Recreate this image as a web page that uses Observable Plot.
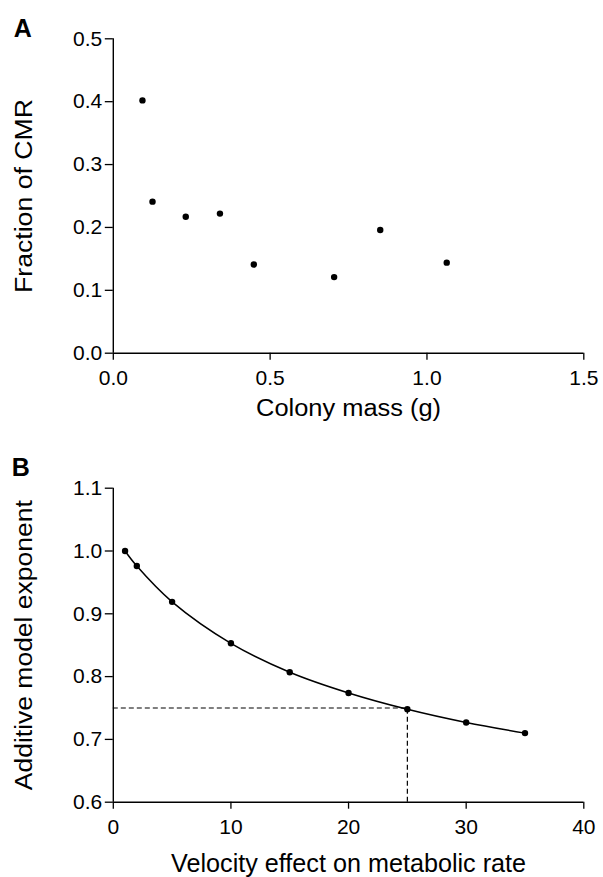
<!DOCTYPE html>
<html>
<head>
<meta charset="utf-8">
<script src="https://cdn.jsdelivr.net/npm/d3@7"></script>
<script src="https://cdn.jsdelivr.net/npm/@observablehq/plot@0.6"></script>
<style>
  html, body { margin: 0; padding: 0; background: #fff; overflow: hidden; }
  svg { display: block; }
</style>
</head>
<body>
<div id="chart"></div>
<script>
// Panel A data
const colonyMass = [0.093, 0.125, 0.231, 0.340, 0.448, 0.704, 0.851, 1.063];
const fractionCMR = [0.402, 0.241, 0.217, 0.222, 0.141, 0.121, 0.196, 0.144];
const ticksAX = [0, 0.5, 1.0, 1.5];
const ticksAY = [0, 0.1, 0.2, 0.3, 0.4, 0.5];
const labelAX = "Colony mass (g)";
const labelAY = "Fraction of CMR";

// Panel B data
const velocityEffect = [1, 2, 5, 10, 15, 20, 25, 30, 35];
const modelExponent = [1.0, 0.976, 0.919, 0.853, 0.807, 0.774, 0.748, 0.727, 0.710];
const ticksBX = [0, 10, 20, 30, 40];
const ticksBY = [0.6, 0.7, 0.8, 0.9, 1.0, 1.1];
const refVelocity = [25];
const refExponent = [0.75];
const labelBX = "Velocity effect on metabolic rate";
const labelBY = "Additive model exponent";

const font = "'Liberation Sans', Arial, Helvetica, sans-serif";
const dataA = colonyMass.map((m, i) => ({m, f: fractionCMR[i]}));
const dataB = velocityEffect.map((v, i) => ({v, e: modelExponent[i]}));

const axisStyle = {fontSize: 21, strokeWidth: 1.3};

const plotA = Plot.plot({
  width: 603, height: 440,
  marginLeft: 112.8, marginRight: 19.7, marginTop: 38.3, marginBottom: 87.3,
  style: {fontFamily: font, fontSize: "21px", color: "#000", background: "#fff", overflow: "visible"},
  x: {domain: [0, 1.5]},
  y: {domain: [0, 0.5]},
  marks: [
    Plot.axisX({ticks: ticksAX, tickFormat: ".1f", tickSize: 7, tickPadding: 10.3, label: null, ...axisStyle}),
    Plot.axisY({ticks: ticksAY, tickFormat: ".1f", tickSize: 8, tickPadding: 3, label: null, ...axisStyle}),
    Plot.ruleX([0], {stroke: "#000", strokeWidth: 1.4}),
    Plot.ruleY([0], {stroke: "#000", strokeWidth: 1.4}),
    Plot.dot(dataA, {x: "m", y: "f", r: 3.2, fill: "#000", stroke: "none"}),
    Plot.text([labelAX], {frameAnchor: "bottom", dy: 62.3, textAnchor: "middle", lineAnchor: "bottom", fontSize: 23, fill: "#000"}),
    Plot.text([labelAY], {frameAnchor: "left", rotate: -90, dx: -81.5, textAnchor: "middle", lineAnchor: "bottom", fontSize: 23, fill: "#000"}),
    Plot.text(["A"], {frameAnchor: "top-left", dx: -99.5, dy: -2.3, textAnchor: "start", lineAnchor: "bottom", fontSize: 25, fontWeight: "bold", fill: "#000"})
  ]
});

const plotB = Plot.plot({
  width: 603, height: 437,
  marginLeft: 112.8, marginRight: 19.7, marginTop: 47.7, marginBottom: 75.3,
  style: {fontFamily: font, fontSize: "21px", color: "#000", background: "#fff", overflow: "visible"},
  x: {domain: [0, 40]},
  y: {domain: [0.6, 1.1]},
  marks: [
    Plot.axisX({ticks: ticksBX, tickFormat: "d", tickSize: 7, tickPadding: 10.3, label: null, ...axisStyle}),
    Plot.axisY({ticks: ticksBY, tickFormat: ".1f", tickSize: 8, tickPadding: 3, label: null, ...axisStyle}),
    Plot.ruleX([0], {stroke: "#000", strokeWidth: 1.4}),
    Plot.ruleY([0.6], {stroke: "#000", strokeWidth: 1.4}),
    Plot.ruleY(refExponent, {x1: 0, x2: refVelocity[0], stroke: "#000", strokeWidth: 1.2, strokeDasharray: "5,3"}),
    Plot.ruleX(refVelocity, {y1: 0.6, y2: refExponent[0], stroke: "#000", strokeWidth: 1.2, strokeDasharray: "5,3"}),
    Plot.line(dataB, {x: "v", y: "e", curve: "catmull-rom", stroke: "#000", strokeWidth: 1.5}),
    Plot.dot(dataB, {x: "v", y: "e", r: 3.2, fill: "#000", stroke: "none"}),
    Plot.text([labelBX], {frameAnchor: "bottom", dy: 69.5, textAnchor: "middle", lineAnchor: "bottom", fontSize: 25, fill: "#000"}),
    Plot.text([labelBY], {frameAnchor: "left", rotate: -90, dx: -81.1, textAnchor: "middle", lineAnchor: "bottom", fontSize: 23, fill: "#000"}),
    Plot.text(["B"], {frameAnchor: "top-left", dx: -101.5, dy: -12.7, textAnchor: "start", lineAnchor: "bottom", fontSize: 25, fontWeight: "bold", fill: "#000"})
  ]
});

const chart = document.getElementById("chart");
chart.append(plotA, plotB);

// stretch axis titles to the reference's widths
const stretch = {};
stretch[labelAX] = 185; stretch[labelAY] = 194; stretch[labelBX] = 355; stretch[labelBY] = 290;
chart.querySelectorAll("text").forEach(t => {
  const s = stretch[t.textContent];
  if (s) { t.setAttribute("textLength", s); t.setAttribute("lengthAdjust", "spacingAndGlyphs"); }
});
</script>
</body>
</html>
